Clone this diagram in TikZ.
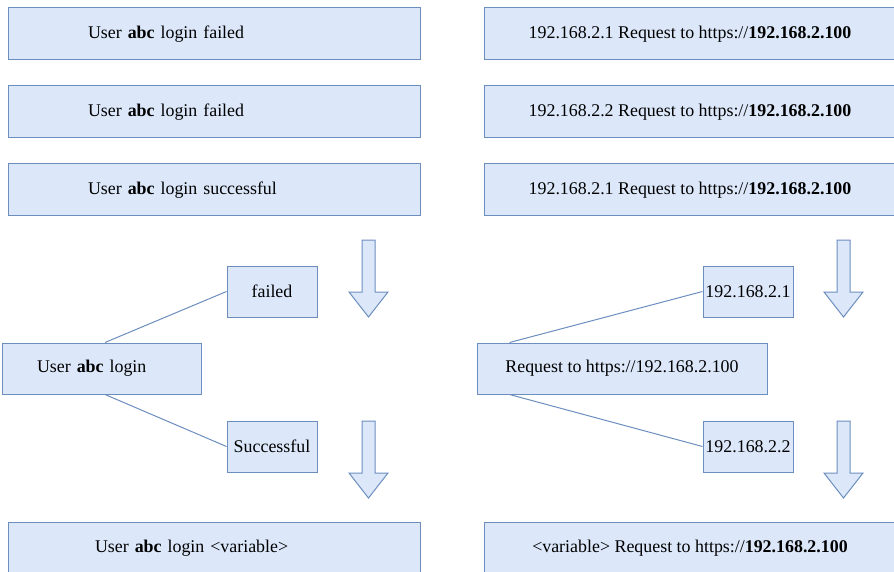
\documentclass[tikz,border=0pt]{standalone}
\usepackage{fontspec}
\setmainfont{Liberation Serif}
\usetikzlibrary{positioning,calc}
\definecolor{boxfill}{HTML}{DCE8FA}
\definecolor{boxline}{HTML}{6C8EBF}
\tikzset{
	logbox/.style={draw=boxline, fill=boxfill, line width=1pt, inner sep=0pt, minimum width=412pt, minimum height=52pt, font=\fontsize{17.9}{20}\selectfont},
	tagbox/.style={logbox, minimum width=90pt, minimum height=51pt},
	lefttext/.style={text width=#1, align=left},
	link/.style={draw=boxline, line width=1pt},
	downarr/.pic={\draw[boxline, fill=boxfill, line width=1pt] (-6.5,0) -- (6.5,0) -- (6.5,52) -- (19.5,52) -- (0,77) -- (-19.5,52) -- (-6.5,52) -- cycle;}
}

\begin{document}
\begin{tikzpicture}[x=1pt,y=-1pt]
	\useasboundingbox (0,0) rectangle (894,572);
	\clip (0,0) rectangle (894,572);
	% raw log lines
	\node[logbox, lefttext=252pt] (l1) at (214,34) {User \textbf{abc} login failed};
	\node[logbox, lefttext=252pt, below=25pt of l1] (l2) {User \textbf{abc} login failed};
	\node[logbox, lefttext=252pt, below=25pt of l2] (l3) {User \textbf{abc} login successful};
	\node[logbox, right=63pt of l1] (r1) {192.168.2.1 Request to https://\textbf{192.168.2.100}};
	\node[logbox, right=63pt of l2] (r2) {192.168.2.2 Request to https://\textbf{192.168.2.100}};
	\node[logbox, right=63pt of l3] (r3) {192.168.2.1 Request to https://\textbf{192.168.2.100}};
	% split into constant and variable part
	\node[tagbox, minimum width=199pt, lefttext=130pt] (login) at (102,368.5) {User \textbf{abc} login};
	\node[tagbox] (failed) at (272,291.5) {failed};
	\node[tagbox] (succ) at (272,446.5) {Successful};
	\draw[link] ($(login.north)+(3,0)$) -- (failed.west);
	\draw[link] ($(login.south)+(3,0)$) -- (succ.west);
	\node[tagbox, minimum width=290pt] (req) at (622,368.5) {Request to https://192.168.2.100};
	\node[tagbox] (ipa) at (748,291.5) {192.168.2.1};
	\node[tagbox] (ipb) at (748,446.5) {192.168.2.2};
	\draw[link] ($(req.north west)+(33,0)$) -- (ipa.west);
	\draw[link] ($(req.south west)+(33,0)$) -- (ipb.west);
	\pic at (368.5,240) {downarr};
	\pic at (368.5,421) {downarr};
	\pic at (843.5,240) {downarr};
	\pic at (843.5,421) {downarr};
	% templates
	\node[logbox, lefttext=238pt] (lt) at (214,548) {User \textbf{abc} login <variable>};
	\node[logbox, right=63pt of lt] (rt) {<variable> Request to https://\textbf{192.168.2.100}};
\end{tikzpicture}
\end{document}
